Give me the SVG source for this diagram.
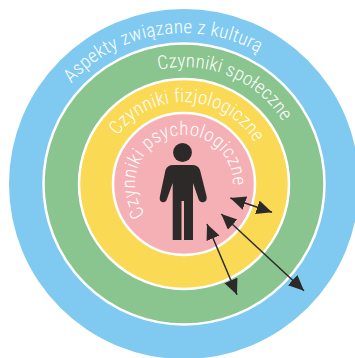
<svg xmlns="http://www.w3.org/2000/svg" width="355" height="358" viewBox="0 0 355 358">
<style>
.ring{stroke:#fff;stroke-width:2.500}
.lbl{fill:#fff;font-stretch:75%;font-weight:350;font-family:Roboto,"Liberation Sans",sans-serif;font-size:19px}
.arr{stroke:#2b2a29;stroke-width:1.5;fill:none;marker-start:url(#ah);marker-end:url(#ah)}
</style>
<defs>
<marker id="ah" markerUnits="userSpaceOnUse" markerWidth="18" markerHeight="16" refX="15.500" refY="7" orient="auto-start-reverse"><path d="M0,0L15.500,7L0,14Z" fill="#2b2a29"/></marker>
<path id="p1" d="M33,184A151,151 0 0 1 335,184"/>
<path id="p2" d="M67,184A117,117 0 0 1 301,184"/>
<path id="p3" d="M102,184A82,82 0 0 1 266,184"/>
<path id="p4" d="M184,233A49,49 0 0 1 184,135A49,49 0 0 1 184,233"/>
</defs>
<g id="ring-culture"><circle cx="184" cy="184" r="175" fill="#80caf2"/><text class="lbl" style="letter-spacing:.25px"><textPath href="#p1" startOffset="110">Aspekty związane z kulturą</textPath></text></g>
<g id="ring-social"><circle class="ring" cx="184" cy="184" r="140.5" fill="#8ac48f"/><text class="lbl" style="letter-spacing:.15px"><textPath href="#p2" startOffset="158">Czynniki społeczne</textPath></text></g>
<g id="ring-physio"><circle class="ring" cx="184" cy="184" r="105" fill="#fad955"/><text class="lbl" style="letter-spacing:.18px"><textPath href="#p3" startOffset="51.5">Czynniki fizjologiczne</textPath></text></g>
<g id="ring-psych"><circle class="ring" cx="184" cy="184" r="71" fill="#f5b0b6"/><text class="lbl" style="letter-spacing:.35px"><textPath href="#p4" startOffset="44.500">Czynniki psychologiczne</textPath></text></g>
<g id="person" fill="#2b2a29"><circle cx="182.5" cy="152.5" r="9.4"/><path d="M173,165H192Q198,165 200,170L206.500,196Q207.500,201 204,202Q200,203 198.500,199L193,183V240H184V201H181.500V240H172.700V183L167,199Q165.500,203 162,202Q158.800,201 160,196L165.500,170Q167.500,165 173,165Z"/></g>
<g id="connectors"><path class="arr" d="M230.300,198L272,212.300"/><path class="arr" d="M221.300,214L304,290.700"/><path class="arr" d="M207,224L237,294.700"/></g>
</svg>
